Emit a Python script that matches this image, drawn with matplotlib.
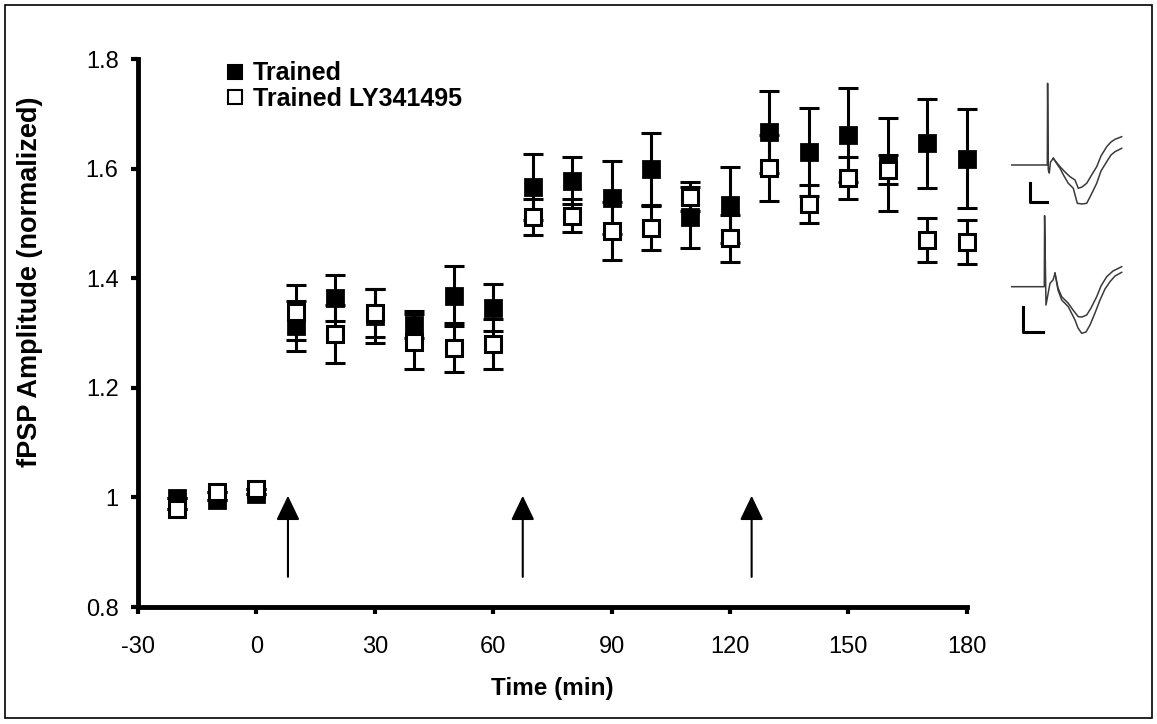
import matplotlib
matplotlib.use("Agg")
import matplotlib.pyplot as plt
from matplotlib.lines import Line2D
from matplotlib.patches import Rectangle

plt.rcParams['font.family'] = ['Liberation Sans', 'DejaVu Sans']
plt.rcParams['axes.unicode_minus'] = False

# data
times = [-20, -10, 0, 10, 20, 30, 40, 50, 60, 70, 80, 90, 100, 110, 120,
         130, 140, 150, 160, 170, 180]
trained = [0.998, 0.996, 1.007, 1.313, 1.363, 1.331, 1.315, 1.368, 1.346,
           1.567, 1.578, 1.547, 1.599, 1.511, 1.534, 1.667, 1.630, 1.661,
           1.608, 1.646, 1.618]
trained_err = [0, 0, 0, 0.046, 0.042, 0.05, 0.025, 0.055, 0.043, 0.06,
               0.043, 0.067, 0.066, 0.056, 0.069, 0.075, 0.08, 0.086,
               0.085, 0.081, 0.09]
trained_ly = [0.978, 1.010, 1.015, 1.338, 1.298, 1.336, 1.284, 1.273, 1.280,
              1.511, 1.514, 1.486, 1.492, 1.549, 1.473, 1.601, 1.535, 1.583,
              1.598, 1.469, 1.466]
trained_ly_err = [0, 0, 0, 0.05, 0.053, 0.044, 0.05, 0.045, 0.046, 0.033,
                  0.03, 0.053, 0.04, 0.027, 0.043, 0.06, 0.035, 0.038,
                  0.026, 0.04, 0.04]

# training sessions (arrows)
arrow_times = [8, 67.5, 125.5]

xticks = [-30, 0, 30, 60, 90, 120, 150, 180]
yticks = [0.8, 1.0, 1.2, 1.4, 1.6, 1.8]
ytick_labels = ["0.8", "1", "1.2", "1.4", "1.6", "1.8"]

# example fPSP traces (inset, pixel-like units)
top_base_x = [21.7, 57.3, 57.6, 58.3, 59.3, 60.5, 63.3]
top_base_y = [95, 95, 13.3, 100, 103, 92, 88.3]
top_a_x = [63.3, 67, 70, 75, 80, 85, 88.3, 92, 96.7, 101, 106.7, 111, 116.7,
           121, 125, 131.7]
top_a_y = [88.3, 93, 96.7, 102, 106.7, 110, 118.3, 117, 113.3, 106, 96.7,
           86, 76.7, 72, 69.3, 66.7]
top_b_x = [63.3, 67, 70, 74, 78.3, 83.3, 87.3, 92, 96.7, 101, 106.7, 111,
           116.7, 121, 125, 131.7]
top_b_y = [88.3, 94, 98.3, 106, 113.3, 118.3, 133.3, 134, 133.3, 125, 113.3,
           101, 91.7, 85, 81.7, 78.3]
bot_base_x = [21.7, 54.3, 54.6, 56, 60, 63, 65]
bot_base_y = [216.7, 216.7, 145.7, 235, 213.3, 210, 203.3]
bot_a_x = [65, 68, 71.7, 78.3, 83, 88.3, 92, 96.7, 101, 106.7, 111, 116.7,
           123, 131.7]
bot_a_y = [203.3, 218, 226.7, 233.3, 240, 246.7, 247, 245, 238, 226.7, 216,
           206.7, 201, 196.7]
bot_b_x = [65, 68, 71.7, 78.3, 85, 88, 91.7, 96, 100, 105, 110, 115, 120,
           125, 131.7]
bot_b_y = [203.3, 220, 230, 236.7, 250, 258, 263.3, 262, 255, 243, 230,
           219, 211.7, 206, 202.3]

W, H = 1157, 724
fig = plt.figure(figsize=(W / 100, H / 100), dpi=100)
ax = fig.add_axes([138 / W, 1 - 607 / H, (966.7 - 138) / W, (607 - 59) / H])

# Trained (filled), then LY341495 (open) on top
ax.errorbar(times, trained, yerr=trained_err, fmt='none', ecolor='k',
            elinewidth=2.2, capsize=7, capthick=2.2, zorder=2, clip_on=False)
ax.plot(times, trained, 's', ms=11, mfc='k', mec='k', mew=2, zorder=3,
        clip_on=False)
ax.errorbar(times, trained_ly, yerr=trained_ly_err, fmt='none', ecolor='k',
            elinewidth=2.2, capsize=7, capthick=2.2, zorder=4, clip_on=False)
ax.plot(times, trained_ly, 's', ms=11, mfc='white', mec='k', mew=2.2,
        zorder=5, clip_on=False)

for t in arrow_times:
    ax.annotate('', xy=(t, 1.003), xytext=(t, 0.855),
                arrowprops=dict(arrowstyle='-|>,head_length=0.75,head_width=0.36',
                                color='k', lw=1.5, mutation_scale=20,
                                shrinkA=0, shrinkB=0))

ax.set_xlim(-30, 180)
ax.set_ylim(0.8, 1.8)
ax.set_xticks(xticks)
ax.set_yticks(yticks)
ax.set_yticklabels(ytick_labels)
for s in ['top', 'right']:
    ax.spines[s].set_visible(False)
for s in ['left', 'bottom']:
    ax.spines[s].set_linewidth(3.5)
ax.tick_params(direction='out', length=5, width=3, labelsize=17)
ax.tick_params(axis='x', pad=16)
ax.tick_params(axis='y', pad=9)

ax.set_xlabel('Time (min)', fontsize=17.5, fontweight='bold')
ax.set_ylabel('fPSP Amplitude (normalized)', fontsize=19.5, fontweight='bold')
ax.xaxis.set_label_coords(0.5, -0.128)
ax.yaxis.set_label_coords(-0.115, 0.593)

handles = [Line2D([], [], ls='none', marker='s', ms=10, mfc='k', mec='k', mew=1.5),
           Line2D([], [], ls='none', marker='s', ms=10, mfc='white', mec='k', mew=1.5)]
fig.legend(handles, ['Trained', 'Trained LY341495'], loc='upper left',
           bbox_to_anchor=(213 / W, 1 - 49 / H), frameon=False,
           prop=dict(size=18, weight='bold'), handlelength=0.75,
           handletextpad=0.35, borderpad=0, labelspacing=0.05)

# inset traces
ins = fig.add_axes([990 / W, 1 - 370 / H, 167 / W, 300 / H])
ins.set_xlim(0, 167)
ins.set_ylim(300, 0)
ins.axis('off')
tc = '#3a3a3a'
for xs, ys in [(top_base_x, top_base_y), (top_a_x, top_a_y), (top_b_x, top_b_y),
               (bot_base_x, bot_base_y), (bot_a_x, bot_a_y), (bot_b_x, bot_b_y)]:
    ins.plot(xs, ys, color=tc, lw=1.1)
ins.plot([40, 40, 56.7], [113.3, 131.7, 131.7], color='k', lw=2.2)
ins.plot([33.3, 33.3, 53.3], [237.3, 262.3, 262.3], color='k', lw=2.2)

# outer frame
fig.patches.append(Rectangle((5 / W, 6 / H), 1147 / W, 713 / H,
                             transform=fig.transFigure, fill=False,
                             lw=1.2, ec='k'))

fig.savefig('out.png', dpi=100)
